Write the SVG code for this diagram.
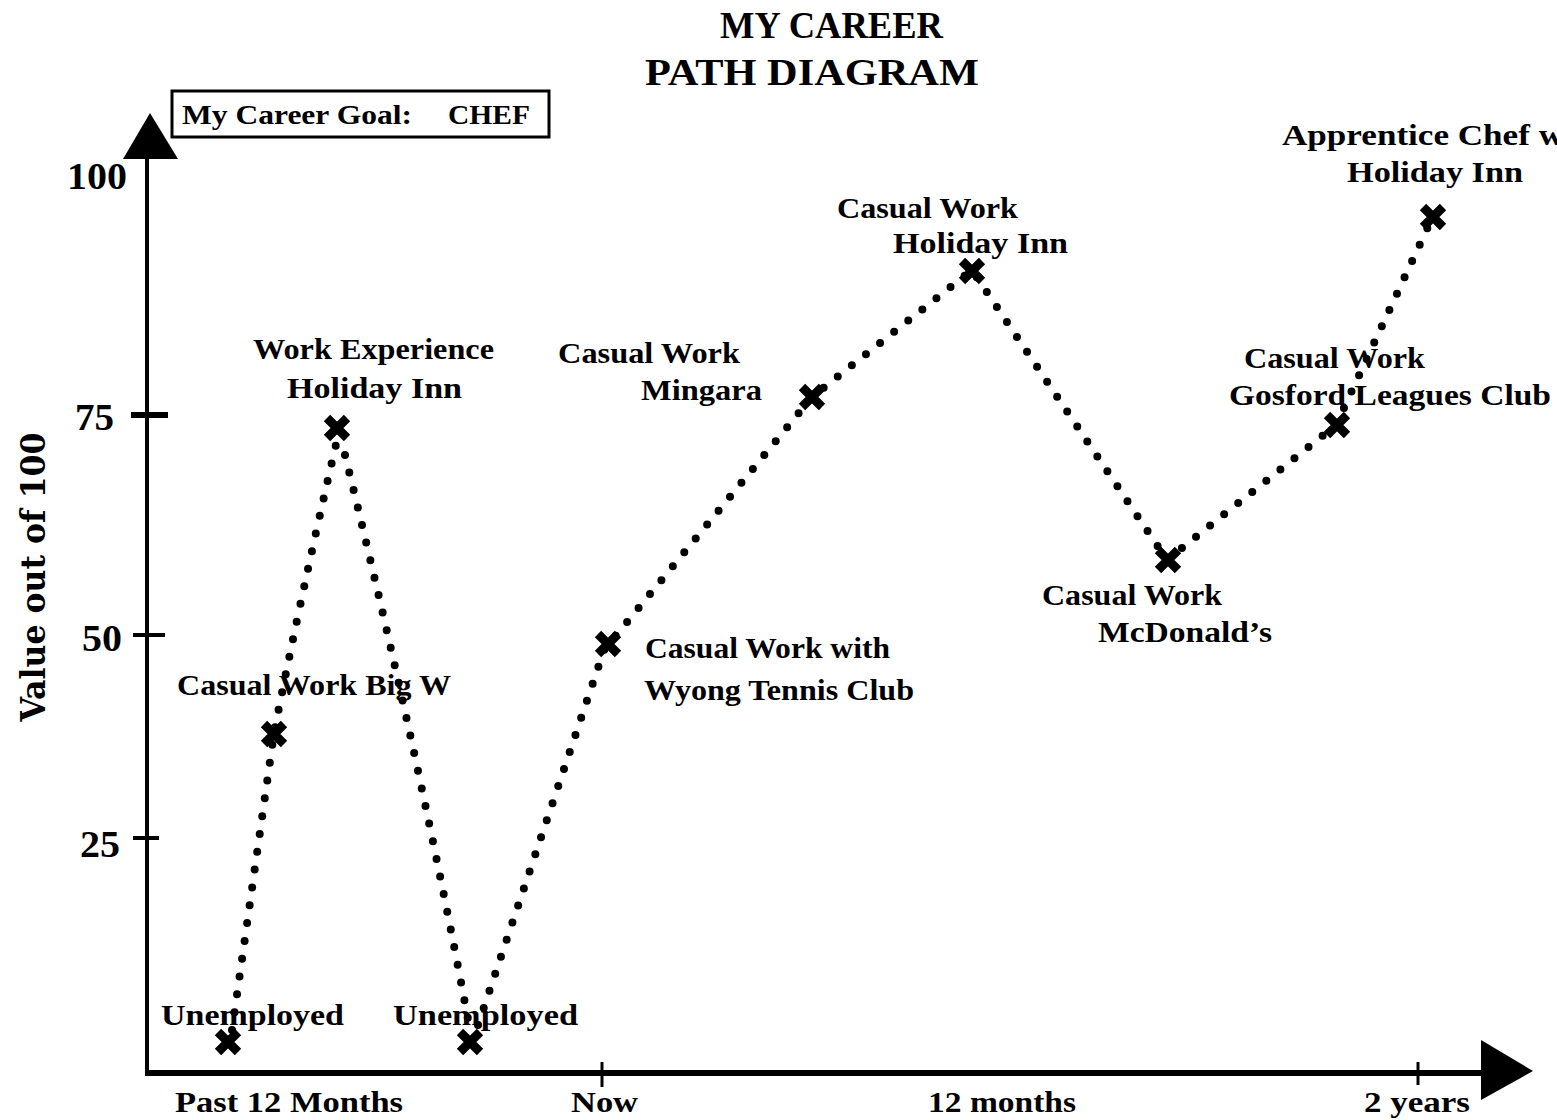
<svg xmlns="http://www.w3.org/2000/svg" width="1557" height="1120" viewBox="0 0 1557 1120">
<style>
text{font-family:"Liberation Serif",serif;font-weight:bold;fill:#000}
.lbl{font-size:29px}
.num{font-size:38px}
.ttl{font-size:37px}
.goal{font-size:27px}
.axl{font-family:"DejaVu Serif",serif;font-size:34px}
.path{fill:none;stroke:#000;stroke-width:8;stroke-linecap:round;stroke-linejoin:round;stroke-dasharray:0 18}
.ax{stroke:#000;fill:none}
</style>
<defs>
<g id="cross"><path d="M-10,-10L10,10M-10,10L10,-10" stroke="#000" stroke-width="9" fill="none"/></g>
</defs>
<rect width="1557" height="1120" fill="#fff"/>
<g id="title">
<text class="ttl" x="720" y="38" textLength="223" lengthAdjust="spacingAndGlyphs">MY CAREER</text>
<text class="ttl" x="645" y="85" textLength="334" lengthAdjust="spacingAndGlyphs">PATH DIAGRAM</text>
</g>
<g id="goal">
<rect x="172" y="91" width="377" height="46" fill="#fff" stroke="#000" stroke-width="3"/>
<text class="goal" x="182" y="124" textLength="230" lengthAdjust="spacingAndGlyphs">My Career Goal:</text>
<text class="goal" x="448" y="124" textLength="82" lengthAdjust="spacingAndGlyphs">CHEF</text>
</g>
<g id="axes">
<line class="ax" x1="147" y1="150" x2="147" y2="1076" stroke-width="4"/>
<polygon points="150,113 178,159 123,159" fill="#000"/>
<line class="ax" x1="146" y1="1073" x2="1490" y2="1073" stroke-width="6"/>
<polygon points="1481,1040 1533,1071 1481,1100" fill="#000"/>
<line class="ax" x1="131" y1="415" x2="168" y2="415" stroke-width="6"/>
<line class="ax" x1="133" y1="635" x2="165" y2="635" stroke-width="4"/>
<line class="ax" x1="133" y1="838" x2="159" y2="838" stroke-width="4"/>
<line class="ax" x1="602" y1="1062" x2="602" y2="1087" stroke-width="3"/>
<line class="ax" x1="1418" y1="1062" x2="1418" y2="1085" stroke-width="3"/>
<text class="num" x="67" y="189" textLength="60" lengthAdjust="spacingAndGlyphs">100</text>
<text class="num" x="75" y="430" textLength="39" lengthAdjust="spacingAndGlyphs">75</text>
<text class="num" x="82" y="651" textLength="40" lengthAdjust="spacingAndGlyphs">50</text>
<text class="num" x="80" y="857" textLength="40" lengthAdjust="spacingAndGlyphs">25</text>
<text class="axl" transform="translate(45,577) rotate(-90)" text-anchor="middle" textLength="289" lengthAdjust="spacingAndGlyphs">Value out of 100</text>
<text class="lbl" x="175" y="1112" textLength="228" lengthAdjust="spacingAndGlyphs">Past 12 Months</text>
<text class="lbl" x="571" y="1112" textLength="67" lengthAdjust="spacingAndGlyphs">Now</text>
<text class="lbl" x="928" y="1112" textLength="148" lengthAdjust="spacingAndGlyphs">12 months</text>
<text class="lbl" x="1364" y="1112" textLength="106" lengthAdjust="spacingAndGlyphs">2  years</text>
</g>
<g id="connectors">
<path class="path" d="M232,1030 L274,733 Q300,600 337,440 M345,455 Q420,760 470,1030 M478,1025 L604,650 L812,397 L972,270 L1167,560 L1336,425 L1433,216"/>
</g>
<g id="n1"><use href="#cross" x="228" y="1042"/><text class="lbl" x="161" y="1025" textLength="183" lengthAdjust="spacingAndGlyphs">Unemployed</text></g>
<g id="n2"><use href="#cross" x="274" y="734"/><text class="lbl" x="177" y="695" textLength="274" lengthAdjust="spacingAndGlyphs">Casual Work Big W</text></g>
<g id="n3"><use href="#cross" x="337" y="428"/><text class="lbl" x="253" y="359" textLength="241" lengthAdjust="spacingAndGlyphs">Work Experience</text><text class="lbl" x="287" y="398" textLength="175" lengthAdjust="spacingAndGlyphs">Holiday Inn</text></g>
<g id="n4"><use href="#cross" x="470" y="1042"/><text class="lbl" x="393" y="1025" textLength="185" lengthAdjust="spacingAndGlyphs">Unemployed</text></g>
<g id="n5"><use href="#cross" x="608" y="644"/><text class="lbl" x="645" y="658" font-size="31" textLength="245" lengthAdjust="spacingAndGlyphs">Casual Work with</text><text class="lbl" x="644" y="700" font-size="31" textLength="270" lengthAdjust="spacingAndGlyphs">Wyong Tennis Club</text></g>
<g id="n6"><use href="#cross" x="812" y="397"/><text class="lbl" x="558" y="363" textLength="182" lengthAdjust="spacingAndGlyphs">Casual Work</text><text class="lbl" x="641" y="400" textLength="121" lengthAdjust="spacingAndGlyphs">Mingara</text></g>
<g id="n7"><use href="#cross" x="972" y="271"/><text class="lbl" x="837" y="218" textLength="181" lengthAdjust="spacingAndGlyphs">Casual Work</text><text class="lbl" x="893" y="253" textLength="175" lengthAdjust="spacingAndGlyphs">Holiday Inn</text></g>
<g id="n8"><use href="#cross" x="1168" y="560"/><text class="lbl" x="1042" y="605" textLength="180" lengthAdjust="spacingAndGlyphs">Casual Work</text><text class="lbl" x="1098" y="642" textLength="174" lengthAdjust="spacingAndGlyphs">McDonald’s</text></g>
<g id="n9"><use href="#cross" x="1337" y="425"/><text class="lbl" x="1244" y="368" textLength="181" lengthAdjust="spacingAndGlyphs">Casual Work</text><text class="lbl" x="1229" y="405" textLength="322" lengthAdjust="spacingAndGlyphs">Gosford Leagues Club</text></g>
<g id="n10"><use href="#cross" x="1433" y="217"/><text class="lbl" x="1282" y="145" textLength="282" lengthAdjust="spacingAndGlyphs">Apprentice Chef w</text><text class="lbl" x="1347" y="182" textLength="176" lengthAdjust="spacingAndGlyphs">Holiday Inn</text></g>
</svg>
